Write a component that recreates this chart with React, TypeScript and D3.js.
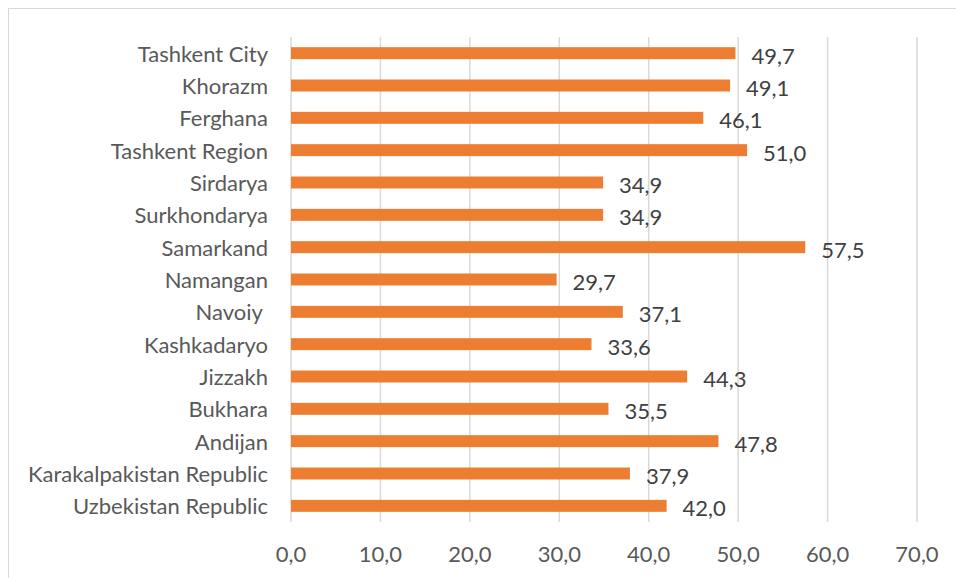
import React from "react";
import * as d3 from "d3";

const categories = [
  "Tashkent City", "Khorazm", "Ferghana", "Tashkent Region", "Sirdarya",
  "Surkhondarya", "Samarkand", "Namangan", "Navoiy ", "Kashkadaryo",
  "Jizzakh", "Bukhara", "Andijan", "Karakalpakistan Republic", "Uzbekistan Republic",
];
const values = [49.7, 49.1, 46.1, 51.0, 34.9, 34.9, 57.5, 29.7, 37.1, 33.6, 44.3, 35.5, 47.8, 37.9, 42.0];
const xTicks = [0, 10, 20, 30, 40, 50, 60, 70];

const W = 956, H = 578;
const left = 291, right = 917, top = 37, bottom = 522;
const font = "Lato, 'Open Sans', sans-serif";
const fs = 22;
const fmt = (v: number) => v.toFixed(1).replace(".", ",");

export default function App() {
  const x = d3.scaleLinear().domain([0, 70]).range([left, right]);
  const y = d3.scaleBand<string>().domain(categories).range([top, bottom]).paddingInner(0.63).paddingOuter(0.315);
  return (
    <svg width={W} height={H} style={{ position: "absolute", left: 0, top: 0, background: "#fff" }}>
      <rect x={8.5} y={8.5} width={W} height={H} fill="#fff" stroke="#d9d9d9" />
      {xTicks.map((t) => (
        <g key={t}>
          <line x1={x(t)} x2={x(t)} y1={top} y2={bottom} stroke="#d9d9d9" strokeWidth={1.5} />
          <text x={x(t)} y={553} textAnchor="middle" dominantBaseline="central" fontFamily={font} fontSize={fs} fill="#595959">{fmt(t)}</text>
        </g>
      ))}
      {categories.map((c, i) => (
        <g key={c}>
          <rect x={x(0)} y={y(c)!} width={x(values[i]) - x(0)} height={y.bandwidth()} fill="#ed7d31" />
          <text x={268} y={y(c)! + y.bandwidth() / 2} textAnchor="end" dominantBaseline="central" fontFamily={font} fontSize={fs} fill="#595959" style={{ whiteSpace: "pre" }}>{c}</text>
          <text x={x(values[i]) + 16} y={y(c)! + y.bandwidth() / 2 + 2} dominantBaseline="central" fontFamily={font} fontSize={fs} fill="#404040">{fmt(values[i])}</text>
        </g>
      ))}
    </svg>
  );
}
